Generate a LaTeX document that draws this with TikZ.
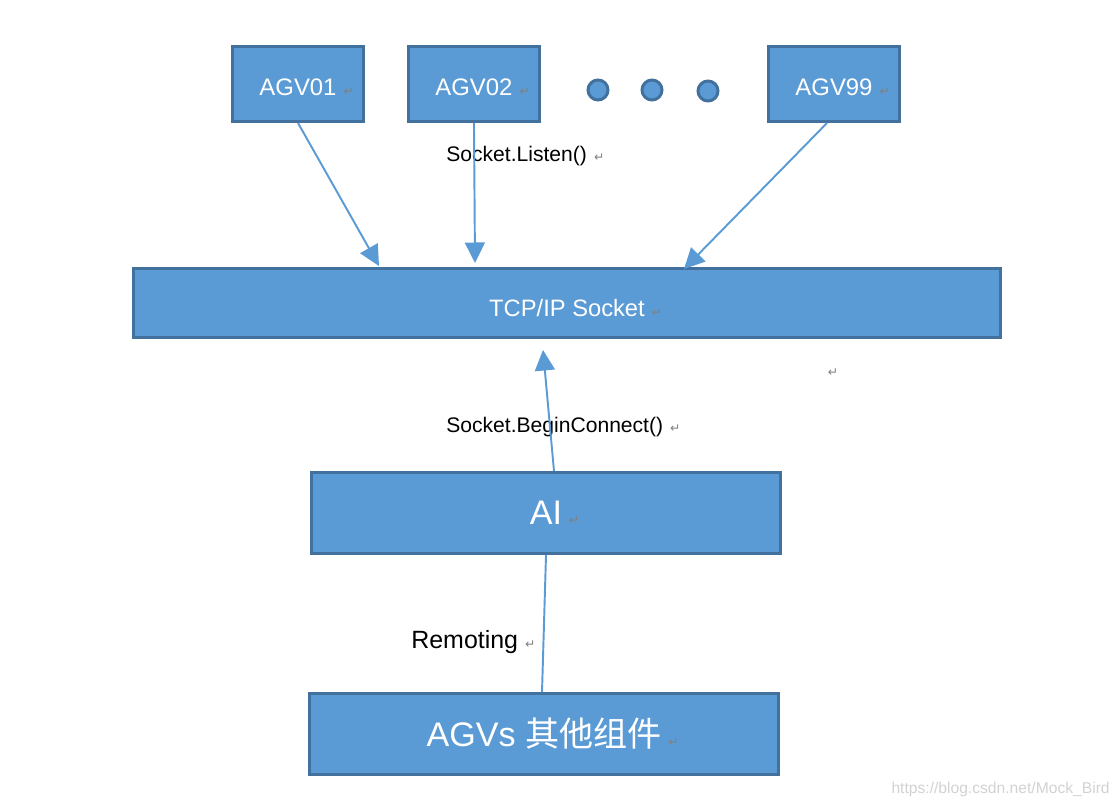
\documentclass[tikz,border=0pt]{standalone}
\usepackage{fontspec}
\setmainfont{Liberation Sans}
\newfontfamily\cjk{Noto Sans CJK SC}
\newfontfamily\symfont{DejaVu Sans}
\usetikzlibrary{arrows.meta}
\definecolor{boxfill}{HTML}{5B9BD5}
\definecolor{boxline}{HTML}{41719C}
\newcommand{\retmark}{\rlap{\hspace{4pt}{\symfont\fontsize{7}{8}\selectfont\color{gray}↵}}}
\newcommand{\lowered}[2]{\raisebox{-#1}[0pt][0pt]{#2}}

\begin{document}
\begin{tikzpicture}[x=0.02cm, y=-0.02cm, node distance=3.52cm,
                    main node/.style={rectangle,draw=boxline,fill=boxfill,line width=1.7pt,text=white,inner sep=0pt},
                    agv node/.style={main node,minimum width=2.62cm,minimum height=1.5cm,font=\fontsize{13.6}{16}\selectfont},
                    big node/.style={main node,minimum width=9.38cm,minimum height=1.62cm,font=\fontsize{19.4}{22}\selectfont},
                    dot node/.style={circle,draw=boxline,fill=boxfill,line width=1.7pt,minimum size=0.4cm,inner sep=0pt},
                    call text/.style={anchor=base west,inner sep=0pt,font=\fontsize{12}{14}\selectfont},
                    link/.style={draw=boxfill,line width=1.1pt,-{Triangle[width=0.4cm,length=0.41cm]}}]

  \useasboundingbox (0,0) rectangle (1118,804);

  \node[agv node] (1) at (298,84) {\lowered{0.232cm}{AGV01\retmark}};
  \node[agv node] (2) [right of=1] {\lowered{0.232cm}{AGV02\retmark}};
  \node[dot node] (3) at (598,90) {};
  \node[dot node] (4) at (652,90) {};
  \node[dot node] (5) at (708,91) {};
  \node[agv node] (6) at (834,84) {\lowered{0.232cm}{AGV99\retmark}};
  \node[main node,minimum width=17.34cm,minimum height=1.38cm,font=\fontsize{13.5}{16}\selectfont]
        (7) at (567,303) {\lowered{0.28cm}{TCP/IP Socket\retmark}};
  \node[big node] (8) at (546,513) {\lowered{0.22cm}{AI\retmark}};
  \node[big node] (9) at (544,734) {\lowered{0.25cm}{AGVs {\cjk 其他组件}\retmark}};

  \node[call text] (l1) at (446,162) {Socket.Listen()\retmark};
  \node[call text] (l2) at (446,432) {Socket.BeginConnect()\retmark};
  \node[call text,font=\fontsize{14.2}{16}\selectfont] (l3) at (411,648) {Remoting\retmark};
  \node[inner sep=0pt,font=\symfont\fontsize{7}{8}\selectfont,text=gray] (r1) at (833,373) {↵};
  \node[anchor=base east,inner sep=0pt,text=gray!35,font=\fontsize{8.9}{10}\selectfont] (w) at (1110,793) {https://blog.csdn.net/Mock\_Bird};

  \coordinate (t1) at (379,266);
  \coordinate (t2) at (475,263);
  \coordinate (t3) at (684,269);
  \coordinate (t4) at (543,350);

\path
     (1.south) edge[link] (t1)
     (2.south) edge[link] (t2)
     ([xshift=-0.14cm]6.south) edge[link] (t3)
     ([xshift=0.16cm]8.north) edge[link] (t4)
     ([xshift=-0.04cm]9.north) edge[draw=boxfill,line width=1.1pt] (8.south)
   ;

\end{tikzpicture}
\end{document}
